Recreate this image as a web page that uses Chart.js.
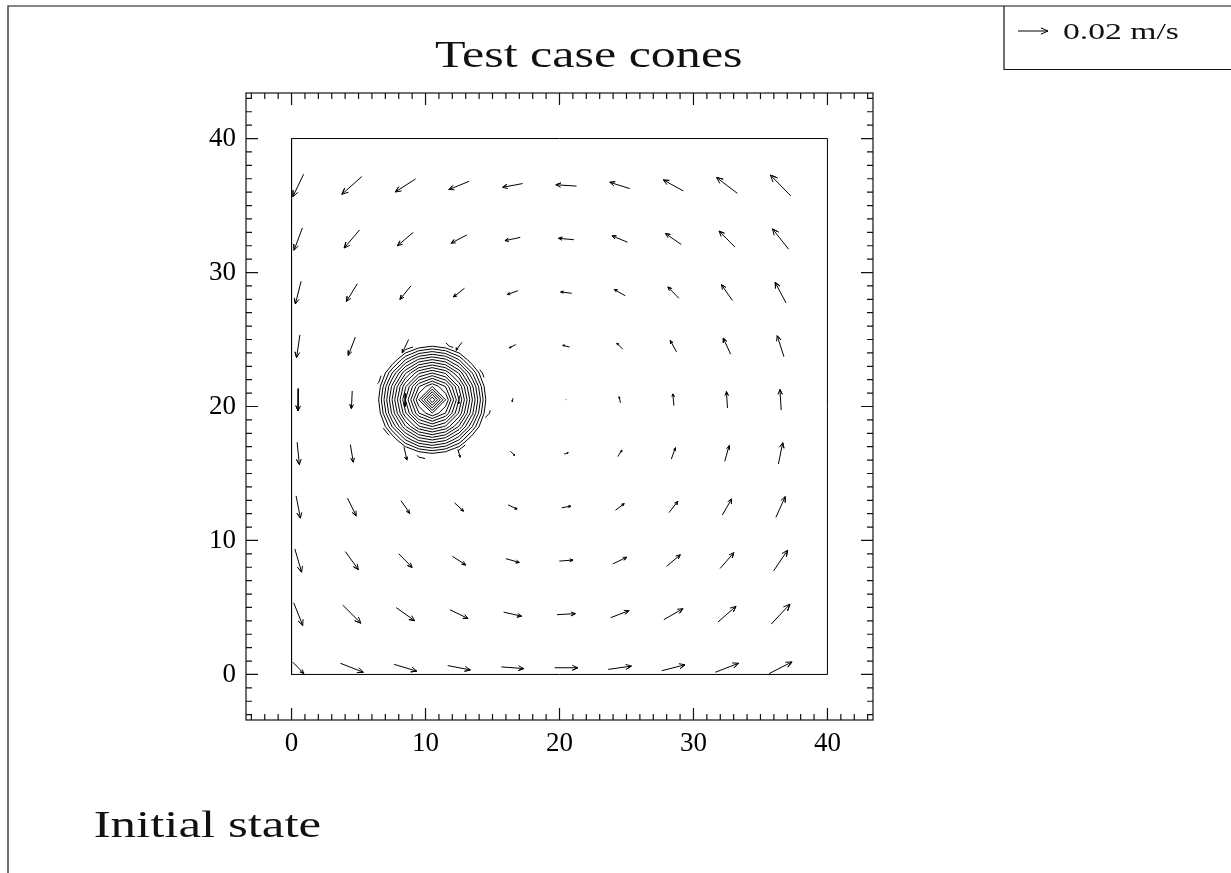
<!DOCTYPE html>
<html>
<head>
<meta charset="utf-8">
<title>Test case cones</title>
<script src="https://cdn.jsdelivr.net/npm/chart.js@4.4.0/dist/chart.umd.min.js"></script>
<style>
  html, body { margin: 0; padding: 0; background: #fff; overflow: hidden; }
  #wrap { width: 1231px; height: 873px; position: relative; }
</style>
</head>
<body>
<div id="wrap"><canvas id="conesChart"></canvas></div>
<script>
// Test case cones - initial state (velocity field + cone contours)

// Texts
const titleText = 'Test case cones';
const captionText = 'Initial state';
const refLabel = '0.02 m/s';

// Axes
const axisMin = -3.4;
const axisMax = 43.4;
const tickValues = [0, 10, 20, 30, 40];
const domainX = [0, 40];
const domainY = [0, 40];

// Velocity grid: arrow centres
const gridX = [0.5, 4.5, 8.5, 12.5, 16.5, 20.5, 24.5, 28.5, 32.5, 36.5];
const gridY = [36.5, 32.5, 28.5, 24.5, 20.5, 16.5, 12.5, 8.5, 4.5, 0.5]; // top row first

// u and v in mm/s, one row per gridY entry
const uRows = [
    [-7.1, -13.3, -13.5, -13.5, -13.3, -13.8, -13.3, -13.3, -13.8, -13.5],
    [-5.5, -10.2, -10.5, -10.5, -10.2, -10.2, -10.2, -10.5, -10.5, -10.7],
    [-3.8, -7.3, -7.3, -7.3, -7.1, -7.3, -7.3, -7.3, -7.3, -7.3],
    [-2.2, -4.7, -4.2, -4.0, -4.2, -4.5, -4.0, -4.2, -4.9, -4.5],
    [-0.2, -0.5, -0.5, -0.5, -0.7, -0.2, -0.9, -0.7, -0.7, -0.9],
    [1.5, 2.0, 2.0, 1.5, 2.9, 2.7, 2.7, 2.7, 2.9, 2.9],
    [2.9, 5.8, 6.0, 6.0, 6.0, 6.0, 5.8, 5.8, 6.2, 6.2],
    [4.5, 8.7, 8.9, 8.9, 8.9, 9.1, 9.3, 9.1, 9.1, 9.3],
    [6.0, 12.0, 12.2, 12.0, 12.0, 12.2, 12.2, 12.7, 12.0, 12.5],
    [7.3, 15.3, 15.1, 15.1, 14.9, 15.5, 15.5, 15.5, 15.5, 15.3]
];
const vRows = [
    [-14.9, -11.8, -8.7, -5.5, -2.5, 0.9, 4.2, 7.3, 10.5, 13.8],
    [-14.9, -12.0, -8.9, -5.5, -2.2, 0.9, 4.2, 7.3, 10.5, 13.5],
    [-15.1, -11.8, -8.9, -5.8, -2.5, 0.9, 4.2, 7.5, 10.5, 13.8],
    [-15.1, -12.2, -8.9, -5.3, -2.2, 1.1, 4.0, 7.5, 10.7, 14.0],
    [-14.9, -11.8, -8.9, -5.5, -2.2, 0.2, 4.0, 7.8, 10.9, 13.8],
    [-14.9, -11.8, -8.9, -5.1, -2.7, 0.9, 4.2, 7.5, 10.5, 14.2],
    [-14.9, -11.8, -8.5, -5.5, -2.7, 1.1, 4.5, 7.5, 10.7, 13.8],
    [-15.5, -12.0, -9.1, -5.8, -2.5, 0.7, 4.5, 7.8, 10.5, 13.8],
    [-15.1, -12.0, -8.7, -5.8, -2.7, 0.7, 4.7, 7.3, 10.5, 13.3],
    [-7.5, -6.0, -4.5, -2.9, -1.1, 0.0, 2.2, 4.0, 6.0, 7.8]
];
const refSpeed = 20; // mm/s, legend arrow

// Cone tracer: centre, base radius, contour levels (height above base)
const coneCenter = [10.5, 20.5];
const coneBase = 4.4;
const contourLevels = [0.4, 0.6, 0.8, 1.0, 1.2, 1.4, 1.6, 1.8, 2.0, 2.2, 2.4,
                       2.6, 2.8, 3.0, 3.2, 3.4, 3.6, 3.8, 4.0, 4.2];
const brokenLevels = [0.2];
const fieldStart = 0.5;
const fieldStep = 1;
const fieldCount = 40;

// Drawing settings
const arrowScale = 0.112;   // data units per mm/s
const headRatio = 0.26;
const headAngle = 24 * Math.PI / 180;
const serif = '"Liberation Serif", "Times New Roman", serif';

const GAP = { x: NaN, y: NaN };

// Build arrow polylines (shaft + open head), centred on the grid point
function buildArrows() {
    const pts = [];
    gridY.forEach((yc, j) => {
        gridX.forEach((xc, i) => {
            const dx = uRows[j][i] * arrowScale;
            const dy = vRows[j][i] * arrowScale;
            const x0 = xc - dx / 2, y0 = yc - dy / 2;
            const x1 = xc + dx / 2, y1 = yc + dy / 2;
            const ct = headRatio * Math.cos(headAngle);
            const st = headRatio * Math.sin(headAngle);
            pts.push({ x: x0, y: y0 }, { x: x1, y: y1 },
                { x: x1 - (ct * dx - st * dy), y: y1 - (ct * dy + st * dx) },
                { x: x1, y: y1 },
                { x: x1 - (ct * dx + st * dy), y: y1 - (ct * dy - st * dx) },
                GAP);
        });
    });
    return pts;
}

// Contour of the cone field on the model grid, traced around the centre
function coneHeight(x, y) {
    return Math.max(0, coneBase - Math.hypot(x - coneCenter[0], y - coneCenter[1]));
}

function contourRing(level) {
    const found = new Map();
    const add = (xa, ya, ha, xb, yb, hb) => {
        if ((ha > level) === (hb > level)) return;
        const t = (level - ha) / (hb - ha);
        const px = xa + t * (xb - xa), py = ya + t * (yb - ya);
        found.set(px.toFixed(5) + ',' + py.toFixed(5), { x: px, y: py });
    };
    for (let i = 0; i < fieldCount; i++) {
        for (let j = 0; j < fieldCount; j++) {
            const x = fieldStart + i * fieldStep, y = fieldStart + j * fieldStep;
            const h = coneHeight(x, y);
            if (i + 1 < fieldCount) add(x, y, h, x + fieldStep, y, coneHeight(x + fieldStep, y));
            if (j + 1 < fieldCount) add(x, y, h, x, y + fieldStep, coneHeight(x, y + fieldStep));
        }
    }
    const ring = [...found.values()].sort((a, b) =>
        Math.atan2(a.y - coneCenter[1], a.x - coneCenter[0]) -
        Math.atan2(b.y - coneCenter[1], b.x - coneCenter[0]));
    if (ring.length) ring.push(ring[0]);
    return ring;
}

function buildContours(levels) {
    const pts = [];
    levels.forEach(lv => { pts.push(...contourRing(lv), GAP); });
    return pts;
}

function boxPath() {
    return [
        { x: domainX[0], y: domainY[0] }, { x: domainX[1], y: domainY[0] },
        { x: domainX[1], y: domainY[1] }, { x: domainX[0], y: domainY[1] },
        { x: domainX[0], y: domainY[0] }
    ];
}

// Stretched serif text, placed by its ink box (left edge, baseline)
function drawText(ctx, text, left, baseline, size, inkWidth) {
    ctx.save();
    ctx.font = size + 'px ' + serif;
    ctx.textAlign = 'left';
    ctx.textBaseline = 'alphabetic';
    const m = ctx.measureText(text);
    const ink = m.actualBoundingBoxLeft + m.actualBoundingBoxRight;
    const sx = inkWidth / ink;
    ctx.translate(left, baseline);
    ctx.scale(sx, 1);
    ctx.fillStyle = '#111';
    ctx.fillText(text, m.actualBoundingBoxLeft, 0);
    ctx.restore();
}

function drawArrowPx(ctx, x0, y0, x1, y1) {
    const dx = x1 - x0, dy = y1 - y0;
    const ct = headRatio * Math.cos(headAngle), st = headRatio * Math.sin(headAngle);
    ctx.beginPath();
    ctx.moveTo(x0, y0); ctx.lineTo(x1, y1);
    ctx.lineTo(x1 - (ct * dx - st * dy), y1 - (ct * dy + st * dx));
    ctx.moveTo(x1, y1);
    ctx.lineTo(x1 - (ct * dx + st * dy), y1 - (ct * dy - st * dx));
    ctx.stroke();
}

const idlFrame = {
    id: 'idlFrame',
    beforeDraw(chart) {
        const ctx = chart.ctx;
        ctx.save();
        ctx.fillStyle = '#fff';
        ctx.fillRect(0, 0, chart.width, chart.height);
        ctx.restore();
    },
    afterDraw(chart) {
        const { ctx, chartArea: a, scales } = chart;
        const xs = scales.x, ys = scales.y;
        ctx.save();
        ctx.strokeStyle = '#111';
        ctx.lineWidth = 1.2;

        // axis box with inward ticks on all four sides
        ctx.strokeRect(a.left, a.top, a.right - a.left, a.bottom - a.top);
        ctx.beginPath();
        for (let v = Math.ceil(axisMin); v <= Math.floor(axisMax); v++) {
            const len = tickValues.includes(v) ? 12 : 6;
            const px = xs.getPixelForValue(v), py = ys.getPixelForValue(v);
            ctx.moveTo(px, a.bottom); ctx.lineTo(px, a.bottom - len);
            ctx.moveTo(px, a.top); ctx.lineTo(px, a.top + len);
            ctx.moveTo(a.left, py); ctx.lineTo(a.left + len, py);
            ctx.moveTo(a.right, py); ctx.lineTo(a.right - len, py);
        }
        ctx.stroke();

        // page frame and legend box
        ctx.beginPath();
        ctx.moveTo(8, chart.height); ctx.lineTo(8, 6); ctx.lineTo(chart.width, 6);
        ctx.moveTo(1004, 6); ctx.lineTo(1004, 69.5); ctx.lineTo(chart.width, 69.5);
        ctx.stroke();

        // reference arrow, same scale as the field
        const unitPx = xs.getPixelForValue(1) - xs.getPixelForValue(0);
        const refPx = refSpeed * arrowScale * unitPx;
        ctx.lineWidth = 1;
        ctx.strokeStyle = '#000';
        drawArrowPx(ctx, 1018, 31, 1018 + refPx, 31);
        ctx.restore();

        drawText(ctx, titleText, 435, 66.7, 37, 307);
        drawText(ctx, captionText, 95, 836.7, 38, 225);
        drawText(ctx, refLabel, 1063, 39.3, 23, 116);
    }
};

const lineDefaults = {
    showLine: true,
    pointRadius: 0,
    pointHoverRadius: 0,
    borderColor: '#000',
    borderWidth: 1,
    tension: 0,
    spanGaps: false,
    fill: false
};

const tickFont = { family: serif, size: 27 };

new Chart(document.getElementById('conesChart'), {
    type: 'scatter',
    data: {
        datasets: [
            Object.assign({ label: 'velocity', data: buildArrows() }, lineDefaults),
            Object.assign({ label: 'cone', data: buildContours(contourLevels) }, lineDefaults),
            Object.assign({ label: 'cone edge', data: buildContours(brokenLevels),
                borderDash: [9, 35.2], borderDashOffset: 26.6 }, lineDefaults),
            Object.assign({ label: 'domain', data: boxPath() }, lineDefaults)
        ]
    },
    options: {
        responsive: true,
        maintainAspectRatio: false,
        animation: false,
        events: [],
        layout: { padding: { left: 190, right: 358, top: 93, bottom: 93 } },
        plugins: {
            legend: { display: false },
            title: { display: false },
            tooltip: { enabled: false }
        },
        scales: {
            x: {
                type: 'linear',
                position: 'bottom',
                min: axisMin,
                max: axisMax,
                afterBuildTicks: s => { s.ticks = tickValues.map(v => ({ value: v })); },
                afterFit: s => { s.height = 60; },
                grid: { display: false, drawTicks: false },
                border: { display: false },
                ticks: { font: tickFont, color: '#000', padding: 8, maxRotation: 0, autoSkip: false }
            },
            y: {
                type: 'linear',
                position: 'left',
                min: axisMin,
                max: axisMax,
                afterBuildTicks: s => { s.ticks = tickValues.map(v => ({ value: v })); },
                afterFit: s => { s.width = 56; },
                grid: { display: false, drawTicks: false },
                border: { display: false },
                ticks: { font: tickFont, color: '#000', padding: 10, autoSkip: false }
            }
        }
    },
    plugins: [idlFrame]
});
</script>
</body>
</html>
